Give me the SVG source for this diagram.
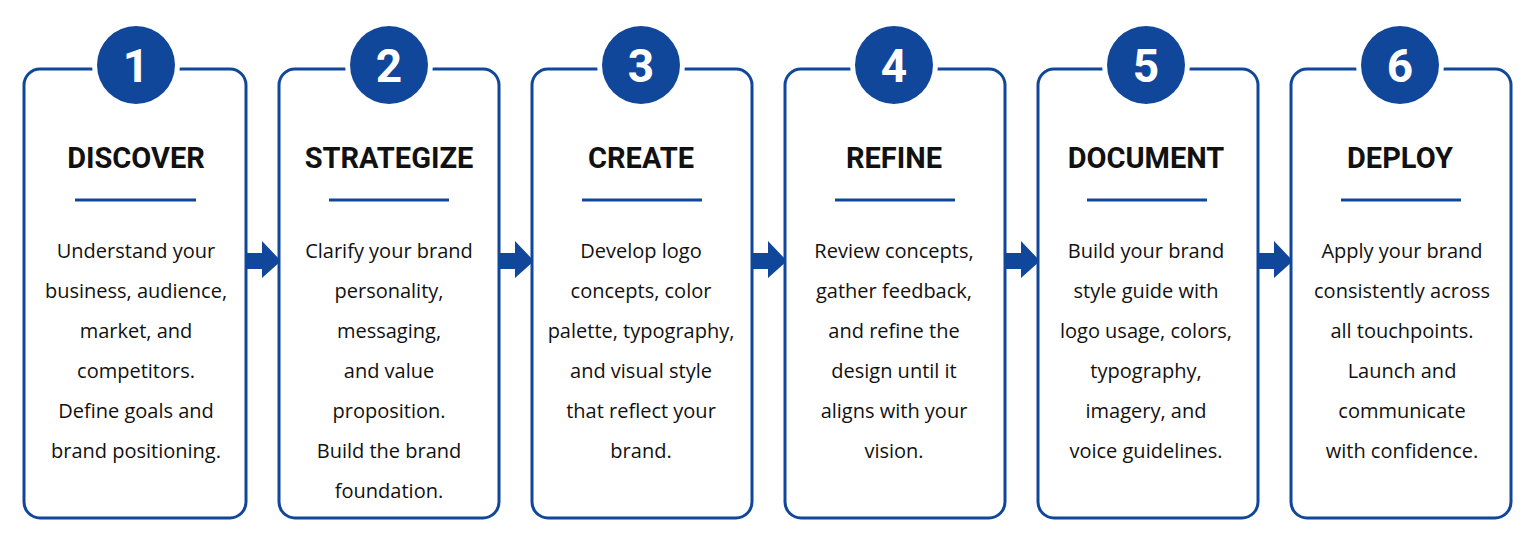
<svg xmlns="http://www.w3.org/2000/svg" width="1536" height="546" viewBox="0 0 1536 546">
<defs>
<style>
.box{fill:#ffffff;stroke:#11479a;stroke-width:3}
.circ{fill:#11479a}
.num{font-family:Roboto,"Liberation Sans",sans-serif;font-weight:700;font-size:46px;fill:#ffffff;text-anchor:middle}
.title{font-family:Roboto,"Liberation Sans",sans-serif;font-weight:700;font-size:29px;fill:#111111;text-anchor:middle}
.rule{stroke:#11479a;stroke-width:3}
.body{font-family:"Open Sans","Liberation Sans",sans-serif;font-size:20px;fill:#111111;text-anchor:middle}
.arrow{fill:#11479a}
</style>
<g id="arrowShape"><path d="M0,-8 H16 V-20 L35,0 L16,17 V8 H0 Z"/></g>
</defs>
<rect width="1536" height="546" fill="#ffffff"/>
<g id="connectors" class="arrow">
<use href="#arrowShape" x="246" y="261"/>
<use href="#arrowShape" x="499" y="261"/>
<use href="#arrowShape" x="752" y="261"/>
<use href="#arrowShape" x="1005" y="261"/>
<use href="#arrowShape" x="1258" y="261"/>
</g>
<g id="step1">
<rect class="box" x="24" y="69" width="222" height="449" rx="16"/>
<circle cx="136" cy="65" r="44" fill="#ffffff"/>
<circle class="circ" cx="136" cy="65" r="39"/>
<text class="num" x="136" y="82">1</text>
<text class="title" x="136" y="168">DISCOVER</text>
<line class="rule" x1="75" y1="200" x2="196" y2="200"/>
<text class="body"><tspan x="136" y="258">Understand your</tspan><tspan x="136" y="298">business, audience,</tspan><tspan x="136" y="338">market, and</tspan><tspan x="136" y="378">competitors.</tspan><tspan x="136" y="418">Define goals and</tspan><tspan x="136" y="458">brand positioning.</tspan></text>
</g>
<g id="step2">
<rect class="box" x="279" y="69" width="220" height="449" rx="16"/>
<circle cx="389" cy="65" r="44" fill="#ffffff"/>
<circle class="circ" cx="389" cy="65" r="39"/>
<text class="num" x="389" y="82">2</text>
<text class="title" x="389" y="168">STRATEGIZE</text>
<line class="rule" x1="329" y1="200" x2="449" y2="200"/>
<text class="body"><tspan x="389" y="258">Clarify your brand</tspan><tspan x="389" y="298">personality,</tspan><tspan x="389" y="338">messaging,</tspan><tspan x="389" y="378">and value</tspan><tspan x="389" y="418">proposition.</tspan><tspan x="389" y="458">Build the brand</tspan><tspan x="389" y="498">foundation.</tspan></text>
</g>
<g id="step3">
<rect class="box" x="532" y="69" width="220" height="449" rx="16"/>
<circle cx="641" cy="65" r="44" fill="#ffffff"/>
<circle class="circ" cx="641" cy="65" r="39"/>
<text class="num" x="641" y="82">3</text>
<text class="title" x="641" y="168">CREATE</text>
<line class="rule" x1="582" y1="200" x2="702" y2="200"/>
<text class="body"><tspan x="641" y="258">Develop logo</tspan><tspan x="641" y="298">concepts, color</tspan><tspan x="641" y="338">palette, typography,</tspan><tspan x="641" y="378">and visual style</tspan><tspan x="641" y="418">that reflect your</tspan><tspan x="641" y="458">brand.</tspan></text>
</g>
<g id="step4">
<rect class="box" x="785" y="69" width="220" height="449" rx="16"/>
<circle cx="894" cy="65" r="44" fill="#ffffff"/>
<circle class="circ" cx="894" cy="65" r="39"/>
<text class="num" x="894" y="82">4</text>
<text class="title" x="894" y="168">REFINE</text>
<line class="rule" x1="835" y1="200" x2="955" y2="200"/>
<text class="body"><tspan x="894" y="258">Review concepts,</tspan><tspan x="894" y="298">gather feedback,</tspan><tspan x="894" y="338">and refine the</tspan><tspan x="894" y="378">design until it</tspan><tspan x="894" y="418">aligns with your</tspan><tspan x="894" y="458">vision.</tspan></text>
</g>
<g id="step5">
<rect class="box" x="1038" y="69" width="220" height="449" rx="16"/>
<circle cx="1146" cy="65" r="44" fill="#ffffff"/>
<circle class="circ" cx="1146" cy="65" r="39"/>
<text class="num" x="1146" y="82">5</text>
<text class="title" x="1146" y="168">DOCUMENT</text>
<line class="rule" x1="1087" y1="200" x2="1207" y2="200"/>
<text class="body"><tspan x="1146" y="258">Build your brand</tspan><tspan x="1146" y="298">style guide with</tspan><tspan x="1146" y="338">logo usage, colors,</tspan><tspan x="1146" y="378">typography,</tspan><tspan x="1146" y="418">imagery, and</tspan><tspan x="1146" y="458">voice guidelines.</tspan></text>
</g>
<g id="step6">
<rect class="box" x="1291" y="69" width="220" height="449" rx="16"/>
<circle cx="1400" cy="65" r="44" fill="#ffffff"/>
<circle class="circ" cx="1400" cy="65" r="39"/>
<text class="num" x="1400" y="82">6</text>
<text class="title" x="1400" y="168">DEPLOY</text>
<line class="rule" x1="1341" y1="200" x2="1461" y2="200"/>
<text class="body"><tspan x="1402" y="258">Apply your brand</tspan><tspan x="1402" y="298">consistently across</tspan><tspan x="1402" y="338">all touchpoints.</tspan><tspan x="1402" y="378">Launch and</tspan><tspan x="1402" y="418">communicate</tspan><tspan x="1402" y="458">with confidence.</tspan></text>
</g>
</svg>
